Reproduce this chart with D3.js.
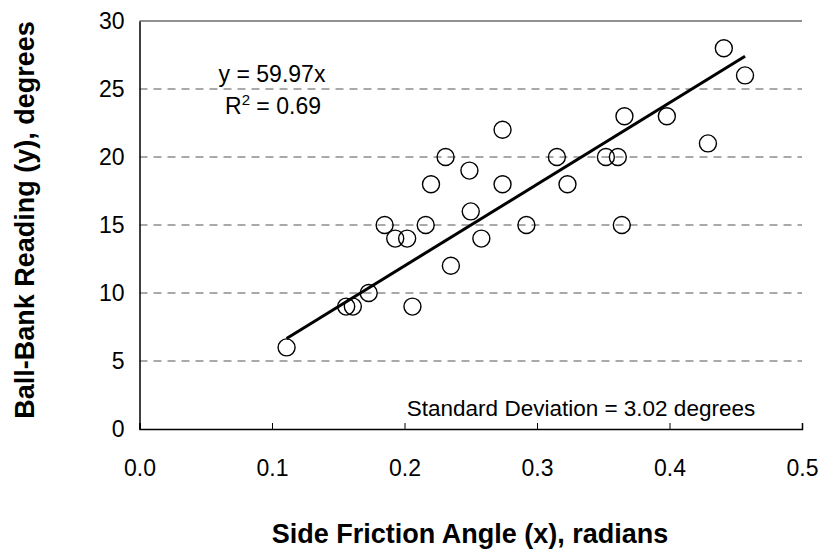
<!DOCTYPE html>
<html>
<head>
<meta charset="utf-8">
<script src="https://cdn.jsdelivr.net/npm/d3@7"></script>
<style>
  body { margin: 0; background: #fff; }
  text { font-family: Arial, "Liberation Sans", sans-serif; fill: #000; }
</style>
</head>
<body>
<svg id="chart" width="823" height="552"></svg>
<script>
// Data
const xValues = [0.111, 0.156, 0.161, 0.173, 0.185, 0.193, 0.202, 0.206, 0.216, 0.220,
                 0.231, 0.235, 0.249, 0.250, 0.258, 0.274, 0.274, 0.292, 0.315, 0.323,
                 0.352, 0.361, 0.364, 0.366, 0.398, 0.429, 0.441, 0.457];
const yValues = [6, 9, 9, 10, 15, 14, 14, 9, 15, 18,
                 20, 12, 19, 16, 14, 22, 18, 15, 20, 18,
                 20, 20, 15, 23, 23, 21, 28, 26];
const slope = 59.97;
const xTicks = [0.0, 0.1, 0.2, 0.3, 0.4, 0.5];
const yTicks = [0, 5, 10, 15, 20, 25, 30];
const gridValues = [5, 10, 15, 20, 25];
const eqLabel = "y = 59.97x";
const r2Value = "0.69";
const sdLabel = "Standard Deviation = 3.02 degrees";
const xTitle = "Side Friction Angle (x), radians";
const yTitle = "Ball-Bank Reading (y), degrees";

const svg = d3.select("#chart");
const mLeft = 139.5, mRight = 802, mTop = 21, mBottom = 429;
const FONT = "Arial, 'Liberation Sans', sans-serif";

const x = d3.scaleLinear().domain([0, 0.5]).range([mLeft, mRight]);
const y = d3.scaleLinear().domain([0, 30]).range([mBottom, mTop]);

// gridlines
svg.append("g").selectAll("line").data(gridValues).join("line")
  .attr("x1", mLeft).attr("x2", mRight)
  .attr("y1", d => y(d)).attr("y2", d => y(d))
  .attr("stroke", "#555").attr("stroke-width", 1)
  .attr("stroke-dasharray", "8,6");

// top line
svg.append("line").attr("x1", mLeft).attr("x2", mRight)
  .attr("y1", y(30)).attr("y2", y(30))
  .attr("stroke", "#222").attr("stroke-width", 1);

// axes
const xAxis = d3.axisBottom(x).tickValues(xTicks).tickSize(-6).tickFormat(d3.format(".1f")).tickPadding(31);
const gx = svg.append("g").attr("transform", `translate(0,${mBottom})`).call(xAxis);
gx.select(".domain").attr("stroke", "#000").attr("stroke-width", 1.5);
gx.selectAll(".tick line").attr("stroke", "#000");
gx.selectAll(".tick text").attr("font-size", 23).attr("font-family", FONT);

const yAxis = d3.axisLeft(y).tickValues(yTicks).tickSize(0).tickPadding(15);
const gy = svg.append("g").attr("transform", `translate(${mLeft},0)`).call(yAxis);
gy.select(".domain").attr("stroke", "#000").attr("stroke-width", 1.5);
gy.selectAll(".tick text").attr("font-size", 23).attr("font-family", FONT);

// points
const pts = xValues.map((v, i) => ({x: v, y: yValues[i]}));
svg.append("g").selectAll("circle").data(pts).join("circle")
  .attr("cx", d => x(d.x)).attr("cy", d => y(d.y)).attr("r", 8.5)
  .attr("fill", "none").attr("stroke", "#000").attr("stroke-width", 1.4);

// trend line
const xmin = d3.min(xValues), xmax = d3.max(xValues);
svg.append("line")
  .attr("x1", x(xmin)).attr("y1", y(slope * xmin))
  .attr("x2", x(xmax)).attr("y2", y(slope * xmax))
  .attr("stroke", "#000").attr("stroke-width", 3);

// annotations
svg.append("text").attr("x", 272).attr("y", 82).attr("text-anchor", "middle")
  .attr("font-size", 23).text(eqLabel);
const r2 = svg.append("text").attr("x", 273).attr("y", 114).attr("text-anchor", "middle")
  .attr("font-size", 23);
r2.append("tspan").text("R");
r2.append("tspan").attr("dy", -9).attr("font-size", 15).text("2");
r2.append("tspan").attr("dy", 9).text(" = " + r2Value);

svg.append("text").attr("x", 581).attr("y", 416).attr("text-anchor", "middle")
  .attr("font-size", 22.5).text(sdLabel);

// axis titles
svg.append("text").attr("x", 470).attr("y", 543).attr("text-anchor", "middle")
  .attr("font-size", 27).attr("font-weight", "bold").text(xTitle);
svg.append("text").attr("transform", "translate(34,220) rotate(-90)")
  .attr("text-anchor", "middle")
  .attr("font-size", 27).attr("font-weight", "bold").text(yTitle);
</script>
</body>
</html>
